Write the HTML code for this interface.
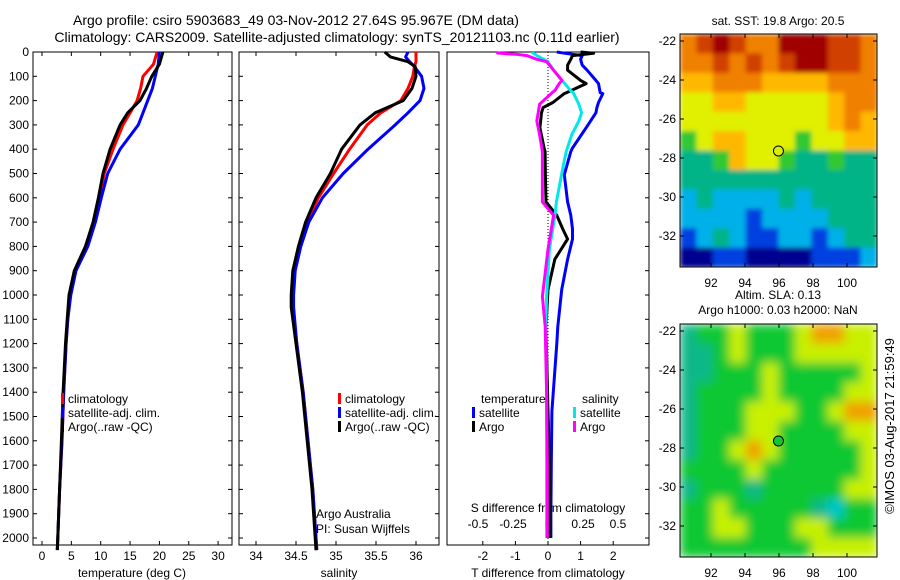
<!DOCTYPE html>
<html><head><meta charset="utf-8"><style>
body{margin:0;background:#fff;}
svg{display:block;font-family:"Liberation Sans",sans-serif;}
</style></head><body>
<svg id="c" width="900" height="580" viewBox="0 0 900 580" xmlns="http://www.w3.org/2000/svg">
<defs>
<clipPath id="clipBot"><rect x="680" y="324" width="197" height="233"/></clipPath>
<clipPath id="clipTop"><rect x="680" y="34" width="197" height="233"/></clipPath>
<filter id="blurB" x="0" y="0" width="1" height="1"><feGaussianBlur stdDeviation="5" edgeMode="duplicate"/></filter>
<filter id="blurT" x="0" y="0" width="1" height="1"><feGaussianBlur stdDeviation="2.5" edgeMode="duplicate"/></filter>
</defs>
<text x="296" y="25" font-size="14" text-anchor="middle">Argo profile: csiro 5903683_49 03-Nov-2012 27.64S 95.967E (DM data)</text>
<text x="337" y="42" font-size="14" text-anchor="middle">Climatology: CARS2009. Satellite-adjusted climatology: synTS_20121103.nc (0.11d earlier)</text>
<g id="g"></g>
</svg>
<script>
// ---- depth axis ----
const depthTicks=[0,100,200,300,400,500,600,700,800,900,1000,1100,1200,1300,1400,1500,1600,1700,1800,1900,2000];
// ---- temperature profiles ----
const tDepth=[0,50,100,150,200,250,300,400,500,600,700,800,900,1000,1100,1200,1400,1600,1800,2000,2050];
const tClim=[19.6,19,17.2,16.8,16.2,15,13.8,12.1,10.6,9.8,8.8,7.6,5.6,4.8,4.4,4.1,3.7,3.4,3.0,2.7,2.6];
const tSat=[20,19.8,19.3,18.8,18,17.2,16.4,13.3,11.2,10.1,9.1,7.8,5.8,4.9,4.4,4.1,3.7,3.4,3.0,2.7,2.6];
const tArgo=[20.6,20,18.7,17.8,16.7,14.6,13.3,11.6,10.4,9.6,8.7,7.4,5.5,4.6,4.3,4.0,3.6,3.3,3.0,2.7,2.6];
const tTicks=[0,5,10,15,20,25,30];
// ---- salinity profiles ----
const sDepth=[0,20,40,60,100,150,200,250,300,400,500,600,700,800,900,1000,1050,1200,1400,1600,1800,2000,2050];
const sClim=[36.0,36.0,36.0,35.98,35.96,35.9,35.81,35.56,35.39,35.17,34.97,34.78,34.64,34.55,34.48,34.46,34.46,34.51,34.59,34.65,34.71,34.75,34.76];
const sSat=[35.9,35.87,35.92,35.98,36.07,36.1,36.05,35.9,35.74,35.4,35.09,34.83,34.66,34.56,34.49,34.47,34.47,34.51,34.59,34.65,34.71,34.75,34.76];
const sArgo=[35.61,35.68,35.9,35.99,36.0,35.95,35.84,35.49,35.3,35.07,34.93,34.75,34.62,34.53,34.46,34.44,34.44,34.5,34.58,34.64,34.7,34.74,34.75];
const sTicks=[34,34.5,35,35.5,36];
// ---- differences ----
const dtDepth=[0,5,15,30,54,75,117,130,167,171,208,229,250,312,395,410,505,617,672,728,770,853,978,1130,1200,1478,1700,1895,2000];
const dtSat=[0.27,0.5,1.05,1.0,1.05,1.2,1.47,1.55,1.6,1.68,1.55,1.5,1.47,1.17,0.75,0.7,0.5,0.6,0.7,0.75,0.75,0.6,0.42,0.3,0.27,0.12,0.1,0.09,0.09];
const dtArgo=[1.0,1.4,0.75,0.7,0.6,0.6,1.0,1.17,0.57,0.5,0.15,-0.15,-0.2,-0.25,-0.12,-0.09,-0.08,-0.06,0.27,0.45,0.6,0.21,0.0,-0.06,-0.05,0.0,0.05,0.06,0.06];
const dsDepth=[0,4,10,15,30,40,75,117,130,158,167,215,250,284,340,410,465,617,672,812,1006,1130,1400,1700,2000];
const dsSat=[-0.11,-0.11,-0.09,-0.08,-0.03,0.0,0.04,0.1,0.12,0.16,0.18,0.22,0.24,0.22,0.17,0.13,0.11,0.06,0.05,0.01,-0.01,-0.015,-0.01,-0.01,-0.01];
const dsArgo=[-0.36,-0.36,-0.22,-0.15,-0.08,-0.01,0.04,0.1,0.08,0.05,0.03,-0.06,-0.07,-0.08,-0.06,-0.04,-0.04,-0.04,0.04,0.0,-0.04,-0.02,-0.01,-0.005,-0.005];
const dtTicks=[-2,-1,0,1,2];
const dsTicks=[-0.5,-0.25,0,0.25,0.5];
const dsTickLabels=["-0.5","-0.25","0","0.25","0.5"];
// ---- maps ----
const mapLatTicks=[-22,-24,-26,-28,-30,-32];
const mapLonTicks=[92,94,96,98,100];
const argoLon=95.967, argoLat=-27.64;
const sstGrid=[
[7,8,9,8,7,7,9,9,9,8,8,7],
[7,7,8,7,8,7,8,9,9,8,8,7],
[6,6,7,7,7,6,6,6,6,7,7,7],
[5,5,6,6,5,5,5,5,5,6,7,7],
[5,5,5,5,5,5,5,5,5,6,7,6],
[4,5,6,6,5,5,5,4,5,5,6,6],
[3,3,4,6,5,5,4,3,3,4,3,3],
[3,3,3,3,3,3,3,3,3,3,3,3],
[2,3,2,2,2,2,3,2,3,3,3,3],
[2,2,2,2,1,2,2,2,2,3,3,3],
[1,2,3,2,1,1,2,2,1,2,3,3],
[0,0,1,1,0,0,0,0,1,1,1,2]];
const slaGrid=[
[3,4,4,5,4,4,4,5,6,6,5,5],
[3,3,4,5,4,4,4,5,5,5,5,5],
[3,3,4,4,4,5,4,4,4,4,4,5],
[3,4,4,4,4,5,4,4,4,4,5,5],
[3,4,4,4,5,5,5,4,4,5,6,6],
[3,4,4,4,5,5,4,4,4,4,5,5],
[3,4,4,5,6,5,4,4,4,4,4,5],
[4,4,4,4,5,4,4,4,4,4,4,5],
[3,4,4,4,3,4,4,4,4,4,5,5],
[4,4,5,4,4,4,4,4,3,2,4,4],
[4,4,5,5,4,4,4,5,5,4,4,4],
[4,4,4,4,4,4,4,4,5,5,5,5]];
const palette=["#000090","#0040e0","#00b0e8","#00b488","#30c830","#e0f000","#ffb800","#f08000","#d04000","#a00000"];
const paletteB=["#000090","#0040e0","#00c8c8","#10b888","#10c830","#c8f000","#f0a000","#f07800","#d04000","#a00000"];

const NS="http://www.w3.org/2000/svg";
const G=document.getElementById('g');
function mk(tag,attrs,parent){const e=document.createElementNS(NS,tag);for(const k in attrs)e.setAttribute(k,attrs[k]);(parent||G).appendChild(e);return e;}
const yTop=52,yBot=545;
function yD(d){return yTop+d*0.243;}
const P1={x0:33,x1:232},P2={x0:239,x1:439},P3={x0:447,x1:649};
function xT(v){return 42+v*5.87;}
function xS(v){return 256+(v-34)*80;}
function xDT(v){return 548+v*32.6;}
function xDS(v){return 548+v*140;}

function frame(P,name,leftLabels){
  const g=mk('g',{});
  
  
  mk('rect',{x:P.x0,y:yTop,width:P.x1-P.x0,height:yBot-yTop,fill:'none',stroke:'#000','stroke-width':1},g);
  depthTicks.forEach(d=>{
    const y=yD(d);
    if(leftLabels!==2) mk('line',{x1:P.x0,y1:y,x2:P.x0+4,y2:y,stroke:'#000'},g);
    mk('line',{x1:P.x1-4,y1:y,x2:P.x1,y2:y,stroke:'#000'},g);
    if(leftLabels===1){
      const t=mk('text',{x:P.x0-4,y:y+4,'font-size':12,'text-anchor':'end'},g);
      t.textContent=d;
      
      
    }
  });
  return g;
}
function xticks(P,ticks,fx,labels,ylab,name,top){
  ticks.forEach((v,i)=>{
    const x=fx(v);
    mk('line',{x1:x,y1:yBot,x2:x,y2:yBot-4,stroke:'#000'});
    if(top) mk('line',{x1:x,y1:yTop,x2:x,y2:yTop+4,stroke:'#000'});
    const t=mk('text',{x:x,y:ylab,'font-size':12,'text-anchor':'middle'});
    t.textContent=labels?labels[i]:v;
    
    
  });
}
function line(xs,ds,fx,color,name,w){
  const pts=xs.map((v,i)=>fx(v).toFixed(1)+','+yD(ds[i]).toFixed(1)).join(' ');
  const p=mk('polyline',{points:pts,fill:'none',stroke:color,'stroke-width':w||3,'stroke-linejoin':'round'});
  
  
}
function label(x,y,txt,name,anchor,size){
  const t=mk('text',{x:x,y:y,'font-size':size||12,'text-anchor':anchor||'start'});
  t.textContent=txt;
  
  
  return t;
}
function legendEntry(x,y,color,txt){
  const r=mk('rect',{x:x,y:y-10,width:3,height:11,fill:color});
  
  
  label(x+7,y,txt,'legend-entry');
}
// panel 1
frame(P1,'temperature-panel',1);
xticks(P1,tTicks,xT,null,560,'temperature-tick-label',true);
label(132,577,'temperature (deg C)','temperature-axis-title','middle');
line(tClim,tDepth,xT,'#ff0000','temperature-climatology-line');
line(tSat,tDepth,xT,'#0000ff','temperature-satellite-line');
line(tArgo,tDepth,xT,'#000000','temperature-argo-line');
legendEntry(61,403,'#ff0000','climatology');
legendEntry(61,417,'#0000ff','satellite-adj. clim.');
legendEntry(61,431,'#000000','Argo(..raw -QC)');
// panel 2
frame(P2,'salinity-panel',0);
xticks(P2,sTicks,xS,null,560,'salinity-tick-label',true);
label(339,577,'salinity','salinity-axis-title','middle');
line(sClim,sDepth,xS,'#ff0000','salinity-climatology-line');
line(sSat,sDepth,xS,'#0000ff','salinity-satellite-line');
line(sArgo,sDepth,xS,'#000000','salinity-argo-line');
legendEntry(338,403,'#ff0000','climatology');
legendEntry(338,417,'#0000ff','satellite-adj. clim.');
legendEntry(338,431,'#000000','Argo(..raw -QC)');
label(316,518,'Argo Australia','credit-line-1');
label(316,533,'PI: Susan Wijffels','credit-line-2');
// panel 3
frame(P3,'difference-panel',2);
mk('line',{x1:548,y1:yTop,x2:548,y2:yBot,stroke:'#000','stroke-dasharray':'1,2'});
xticks(P3,dtTicks,xDT,null,560,'t-diff-tick-label',false);
dsTicks.forEach((v,i)=>{const t=label(xDS(v),528,dsTickLabels[i],'s-diff-tick-label','middle');});
label(548,512,'S difference from climatology','s-diff-axis-title','middle');
label(548,577,'T difference from climatology','t-diff-axis-title','middle');
line(dtSat,dtDepth,xDT,'#0000ff','t-diff-satellite-line');
line(dtArgo,dtDepth,xDT,'#000000','t-diff-argo-line');
line(dsSat,dsDepth,xDS,'#00e8e8','s-diff-satellite-line');
line(dsArgo,dsDepth,xDS,'#ff00ff','s-diff-argo-line');
label(481,403,'temperature','legend-temperature-heading');
label(582,403,'salinity','legend-salinity-heading');
legendEntry(472,417,'#0000ff','satellite');
legendEntry(472,431,'#000000','Argo');
legendEntry(573,417,'#00e8e8','satellite');
legendEntry(573,431,'#ff00ff','Argo');

// maps
const MX0=680,MX1=877;
function mxLon(l){return 711+(l-92)*17;}
function map(grid,top,name,pal,filt,clip){
  function my(l){return top+7+(-22-l)*19.5;}
  const g=mk('g',{});
  
  
  const cg=mk('g',{'clip-path':clip},g);
  const ig=mk('g',{filter:filt},cg);
  const rows=grid.length,cols=grid[0].length;
  const cw=(MX1-MX0)/cols,ch=233/rows;
  grid.forEach((row,r)=>row.forEach((v,c)=>{
    const cell=mk('rect',{x:MX0+c*cw,y:top+r*ch,width:cw+0.6,height:ch+0.6,fill:pal[v]},ig);
    
    
  }));
  mk('rect',{x:MX0,y:top,width:MX1-MX0,height:233,fill:'none',stroke:'#000'},g);
  mapLatTicks.forEach(l=>{
    const y=my(l);
    mk('line',{x1:MX0,y1:y,x2:MX0+4,y2:y,stroke:'#000'},g);
    mk('line',{x1:MX1-4,y1:y,x2:MX1,y2:y,stroke:'#000'},g);
    label(MX0-4,y+4,String(l),'map-lat-label','end');
  });
  mapLonTicks.forEach(l=>{
    const x=mxLon(l);
    mk('line',{x1:x,y1:top,x2:x,y2:top+4,stroke:'#000'},g);
    mk('line',{x1:x,y1:top+233,x2:x,y2:top+229,stroke:'#000'},g);
    label(x,top+253,String(l),'map-lon-label','middle');
  });
  const dot=mk('circle',{cx:mxLon(argoLon),cy:my(argoLat),r:5,fill:pal===paletteB?'#10c830':'#d8f000',stroke:'#000','stroke-width':1},g);
  
  
}
map(sstGrid,34,'sst-map',palette,'url(#blurT)','url(#clipTop)');
map(slaGrid,324,'sla-map',paletteB,'url(#blurB)','url(#clipBot)');
label(778,25,'sat. SST: 19.8  Argo: 20.5','sst-map-title','middle');
label(778,299,'Altim. SLA: 0.13','sla-map-title','middle');
label(778,314,'Argo h1000: 0.03  h2000: NaN','sla-map-subtitle','middle');
const ts=label(0,0,'©IMOS 03-Aug-2017 21:59:49','timestamp','middle',13);
ts.setAttribute('transform','translate(894,426) rotate(-90)');
</script>
</body></html>
